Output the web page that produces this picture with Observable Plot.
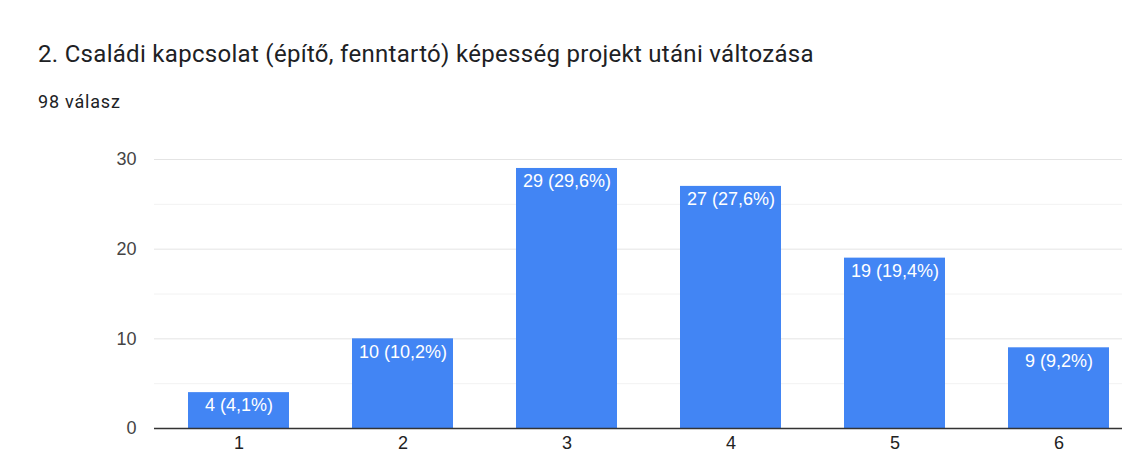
<!DOCTYPE html>
<html><head><meta charset="utf-8">
<script src="https://cdn.jsdelivr.net/npm/d3@7"></script>
<script src="https://cdn.jsdelivr.net/npm/@observablehq/plot@0.6"></script>
<style>
body{margin:0;background:#fff;font-family:Roboto,"Noto Sans",sans-serif;width:1122px;height:455px;overflow:hidden;position:relative}
#title{position:absolute;left:38px;top:42px;font-size:24px;line-height:24px;letter-spacing:0.3px;color:#202124;white-space:nowrap}
#sub{position:absolute;left:38px;top:93px;font-size:18px;line-height:18px;letter-spacing:0.8px;color:#202124}
#chart{position:absolute;left:0;top:120px}
</style></head><body>
<div id="title">2. Családi kapcsolat (építő, fenntartó) képesség projekt utáni változása</div>
<div id="sub">98 válasz</div>
<div id="chart"></div>
<script>
const categories = ["1","2","3","4","5","6"];
const counts = [4, 10, 29, 27, 19, 9];
const percents = ["4,1%", "10,2%", "29,6%", "27,6%", "19,4%", "9,2%"];
const yTicks = [0, 10, 20, 30];
const minorTicks = [5, 15, 25];

const data = categories.map((c, i) => ({cat: c, n: counts[i], label: `${counts[i]} (${percents[i]})`}));
const font = "'Liberation Sans', Arial, sans-serif";

const chart = Plot.plot({
  width: 1122, height: 335,
  marginTop: 39, marginBottom: 27, marginLeft: 154, marginRight: 0,
  style: {fontFamily: font, fontSize: "18px", color: "#444", background: "#fff"},
  x: {domain: categories, range: [154.6, 1142.2], paddingInner: 0.382, paddingOuter: 0.191, label: null},
  y: {domain: [0, 30], label: null},
  marks: [
    Plot.ruleY(minorTicks, {stroke: "#f2f2f2", strokeWidth: 1}),
    Plot.ruleY(yTicks.filter(d => d > 0), {stroke: "#e4e4e4", strokeWidth: 1}),
    Plot.barY(data, {x: "cat", y: "n", fill: "#4285f4"}),
    Plot.text(data, {x: "cat", y: "n", text: "label", fill: "#fff", dy: 13, fontSize: 18, fontFamily: font}),
    Plot.ruleY([0], {stroke: "#333", strokeWidth: 1.5}),
    Plot.axisY(yTicks, {tickSize: 0, tickPadding: 18, fontSize: 18, fill: "#444", label: null}),
    Plot.axisX({tickSize: 0, tickPadding: 8, fontSize: 18, fill: "#222", label: null})
  ]
});
document.getElementById("chart").appendChild(chart);
</script>
</body></html>
